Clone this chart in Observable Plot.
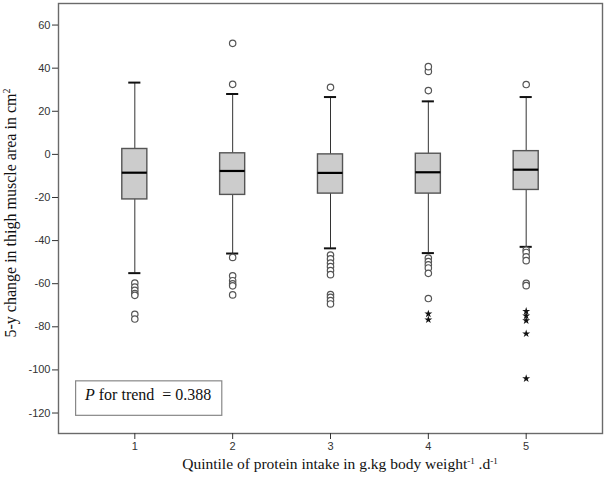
<!DOCTYPE html>
<html><head><meta charset="utf-8">
<script src="https://cdn.jsdelivr.net/npm/d3@7"></script>
<script src="https://cdn.jsdelivr.net/npm/@observablehq/plot@0.6"></script>
<style>body{margin:0;background:#fff} svg{display:block}</style>
</head><body><div id="chart"></div>
<script>
// Box-plot summaries per quintile
const quintiles   = [1, 2, 3, 4, 5];
const whiskerLow  = [-55.1, -46.0, -43.6, -45.8, -42.9];
const q1          = [-20.9, -18.8, -18.2, -18.2, -16.5];
const medians     = [-8.5, -7.7, -8.6, -8.3, -7.1];
const q3          = [2.5, 0.5, 0.0, 0.3, 1.5];
const whiskerHigh = [33.3, 28.0, 26.6, 24.6, 26.6];

// Outliers (circles)
const outlierQuintile = [1,1,1,1,1,1,1, 2,2,2,2,2,2,2,2, 3,3,3,3,3,3,3,3,3,3,3, 4,4,4,4,4,4,4,4,4, 5,5,5,5,5,5,5];
const outlierValue = [
  -59.7, -61.6, -63.1, -64.6, -65.4, -74.2, -76.4,
  32.5, 51.5, -47.8, -56.3, -58.6, -60.1, -61.0, -65.2,
  31.1, -46.7, -48.5, -50.4, -52.1, -53.9, -55.8, -65.0, -66.3, -67.8, -69.4,
  29.6, 38.5, 40.7, -48.1, -49.7, -51.2, -52.7, -55.2, -66.9,
  32.4, -44.4, -45.5, -47.5, -49.3, -59.8, -60.9
];
// Extreme values (stars)
const extremeQuintile = [4, 4, 5, 5, 5, 5, 5];
const extremeValue = [-74.0, -76.7, -72.8, -74.9, -77.1, -83.2, -104.0];

const yTicks = [-120, -100, -80, -60, -40, -20, 0, 20, 40, 60];
const trendBoxX = [0.40, 1.894];
const trendBoxY = [-121.3, -105.3];
const trendLabel = ["P", " for trend  = 0.388"];
const yLabel = "5-y change in thigh muscle area in cm";
const xLabelParts = ["Quintile of protein intake in g.kg body weight", "-1", " .d", "-1"];

const halfBox = 0.128, halfCap = 0.062;

const plot = Plot.plot({
  width: 605, height: 479,
  marginLeft: 58, marginRight: 3, marginTop: 3, marginBottom: 46,
  style: {fontFamily: "'Liberation Sans', Arial, sans-serif", fontSize: "11px", color: "#333", background: "#fff"},
  x: {type: "linear", domain: [0.22, 5.78]},
  y: {domain: [-129.5, 70]},
  marks: [
    Plot.frame({stroke: "#6a6a6a", strokeWidth: 1.4}),
    Plot.axisX({ticks: quintiles, tickFormat: d => String(d), tickSize: 6, tickPadding: 3, label: null, stroke: "#333"}),
    Plot.axisY({ticks: yTicks, tickFormat: d => String(d), tickSize: 6, tickPadding: 2, label: null, stroke: "#333"}),
    Plot.ruleX(quintiles, {x: d => d, y1: (d, i) => whiskerLow[i], y2: (d, i) => whiskerHigh[i], stroke: "#333", strokeWidth: 1}),
    Plot.rect(quintiles, {x1: d => d - halfBox, x2: d => d + halfBox, y1: (d, i) => q1[i], y2: (d, i) => q3[i], fill: "#cccccc", stroke: "#555", strokeWidth: 1.4}),
    Plot.ruleY(quintiles, {y: (d, i) => medians[i], x1: d => d - halfBox, x2: d => d + halfBox, stroke: "#000", strokeWidth: 2.2}),
    Plot.ruleY(quintiles, {y: (d, i) => whiskerHigh[i], x1: d => d - halfCap, x2: d => d + halfCap, stroke: "#111", strokeWidth: 2}),
    Plot.ruleY(quintiles, {y: (d, i) => whiskerLow[i], x1: d => d - halfCap, x2: d => d + halfCap, stroke: "#111", strokeWidth: 2}),
    Plot.dot(outlierValue, {x: (d, i) => outlierQuintile[i], y: d => d, r: 3.2, stroke: "#555", fill: "white", strokeWidth: 1.2}),
    Plot.dot(extremeValue, {x: (d, i) => extremeQuintile[i], y: d => d, r: 2.5, symbol: "star", fill: "#111", stroke: "none"}),
    Plot.rect([0], {x1: trendBoxX[0], x2: trendBoxX[1], y1: trendBoxY[0], y2: trendBoxY[1], fill: "white", stroke: "#888", strokeWidth: 1.2})
  ]
});

const svg = d3.select(plot);
const sx = plot.scale("x"), sy = plot.scale("y");
const serif = "'Liberation Serif', 'Times New Roman', serif";

// Trend annotation
const t = svg.append("text")
  .attr("x", sx.apply(0.496)).attr("y", sy.apply(-114.2))
  .attr("text-anchor", "start")
  .attr("font-family", serif).attr("font-size", 16).attr("fill", "#111");
t.append("tspan").attr("font-style", "italic").text(trendLabel[0]);
t.append("tspan").text(trendLabel[1]);

// Y axis label
const yl = svg.append("text")
  .attr("transform", "translate(16,213) rotate(-90)")
  .attr("text-anchor", "middle")
  .attr("font-family", serif).attr("font-size", 16).attr("fill", "#111");
yl.append("tspan").text(yLabel);
yl.append("tspan").attr("font-size", 10).attr("dy", -6).text("2");

// X axis label
const xl = svg.append("text")
  .attr("x", 340).attr("y", 469)
  .attr("text-anchor", "middle")
  .attr("font-family", serif).attr("font-size", 15.5).attr("fill", "#111");
xl.append("tspan").text(xLabelParts[0]);
xl.append("tspan").attr("font-size", 9).attr("dy", -5).text(xLabelParts[1]);
xl.append("tspan").attr("dy", 5).text(xLabelParts[2]);
xl.append("tspan").attr("font-size", 9).attr("dy", -5).text(xLabelParts[3]);

document.getElementById("chart").appendChild(plot);
</script>
</body></html>
